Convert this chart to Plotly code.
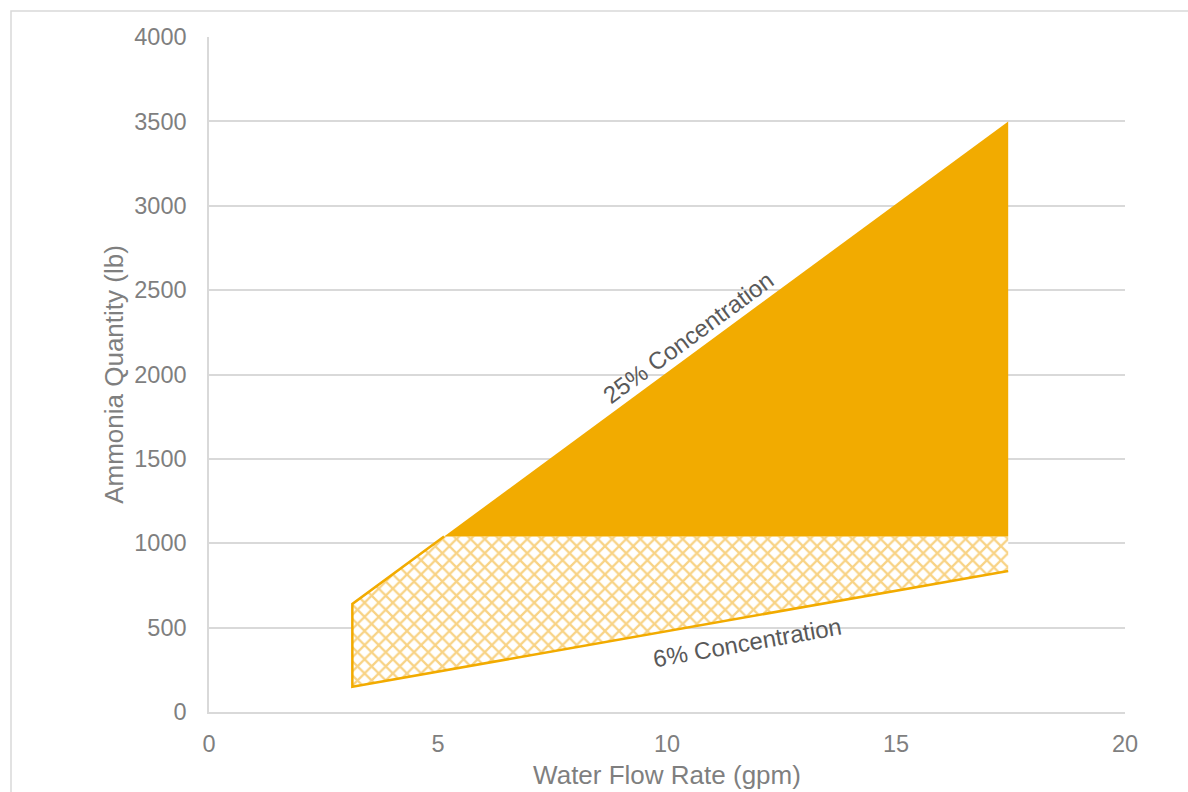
import plotly.graph_objects as go

# Flow-rate range and ammonia quantity at each end for the two solution strengths
flow_gpm = [3.13, 17.45]
conc25_lb = [640, 3500]
conc6_lb = [150, 836]
limit_lb = 1040

x_ticks = [0, 5, 10, 15, 20]
y_ticks = [0, 500, 1000, 1500, 2000, 2500, 3000, 3500, 4000]

ORANGE = "#F2AB00"
HATCH = "#F3B533"
GRID = "#D9D9D9"
TICK = "#7F7F7F"
FONT = "Liberation Sans, Arial, sans-serif"

# flow at which the 25% line reaches the quantity limit
slope25 = (conc25_lb[1] - conc25_lb[0]) / (flow_gpm[1] - flow_gpm[0])
knee_x = flow_gpm[0] + (limit_lb - conc25_lb[0]) / slope25

fig = go.Figure()

# hatched band below the limit
fig.add_trace(go.Scatter(
    x=[flow_gpm[0], flow_gpm[0], knee_x, flow_gpm[1], flow_gpm[1], flow_gpm[0]],
    y=[conc6_lb[0], conc25_lb[0], limit_lb, limit_lb, conc6_lb[1], conc6_lb[0]],
    mode="lines", fill="toself", line=dict(width=0, color=HATCH),
    fillcolor="white",
    fillpattern=dict(shape="x", size=10, solidity=0.4, fgcolor=HATCH,
                     bgcolor="white", fgopacity=0.6, fillmode="replace"),
    hoverinfo="skip", showlegend=False))

# solid region above the limit
fig.add_trace(go.Scatter(
    x=[knee_x, flow_gpm[1], flow_gpm[1], knee_x],
    y=[limit_lb, conc25_lb[1], limit_lb, limit_lb],
    mode="lines", fill="toself", fillcolor=ORANGE,
    line=dict(width=0, color=ORANGE),
    hoverinfo="skip", showlegend=False))

# outline: left edge, 25% line up to the limit, and the 6% line
fig.add_trace(go.Scatter(
    x=[knee_x, flow_gpm[0], flow_gpm[0], flow_gpm[1]],
    y=[limit_lb, conc25_lb[0], conc6_lb[0], conc6_lb[1]],
    mode="lines", line=dict(width=2.5, color=ORANGE),
    hoverinfo="skip", showlegend=False))

fig.add_annotation(x=10.46, y=2222, xref="x", yref="y", text="25% Concentration",
                   showarrow=False, textangle=-36.3,
                   font=dict(family=FONT, size=24, color="#595959"))
fig.add_annotation(x=11.75, y=409, xref="x", yref="y", text="6% Concentration",
                   showarrow=False, textangle=-10,
                   font=dict(family=FONT, size=24, color="#595959"))

# light frame around the chart
fig.add_shape(type="rect", xref="paper", yref="paper",
              x0=(11 - 209) / 916, x1=1.3, y0=-0.3, y1=(712 - 11) / 675,
              line=dict(color=GRID, width=1.5), fillcolor="rgba(0,0,0,0)", layer="below")

fig.update_layout(
    width=1188, height=792,
    margin=dict(l=209, r=63, t=37, b=80),
    paper_bgcolor="white", plot_bgcolor="white",
    font=dict(family=FONT, color=TICK),
    xaxis=dict(range=[0, 20], tickvals=x_ticks, showgrid=False, zeroline=False,
               showline=True, linecolor=GRID, linewidth=1.5, automargin=False,
               ticks="", ticklabelstandoff=10, tickfont=dict(size=23.5, color=TICK),
               title=dict(text="Water Flow Rate (gpm)", font=dict(size=26, color=TICK), standoff=10)),
    yaxis=dict(range=[0, 4000], tickvals=y_ticks, showgrid=True, gridcolor=GRID, gridwidth=1.5,
               zeroline=False, showline=True, linecolor=GRID, linewidth=1.5, automargin=False,
               ticks="", ticklabelstandoff=16, tickfont=dict(size=23.5, color=TICK),
               title=dict(text="Ammonia Quantity (lb)", font=dict(size=26, color=TICK), standoff=3)),
)

fig.write_html("out.html")
